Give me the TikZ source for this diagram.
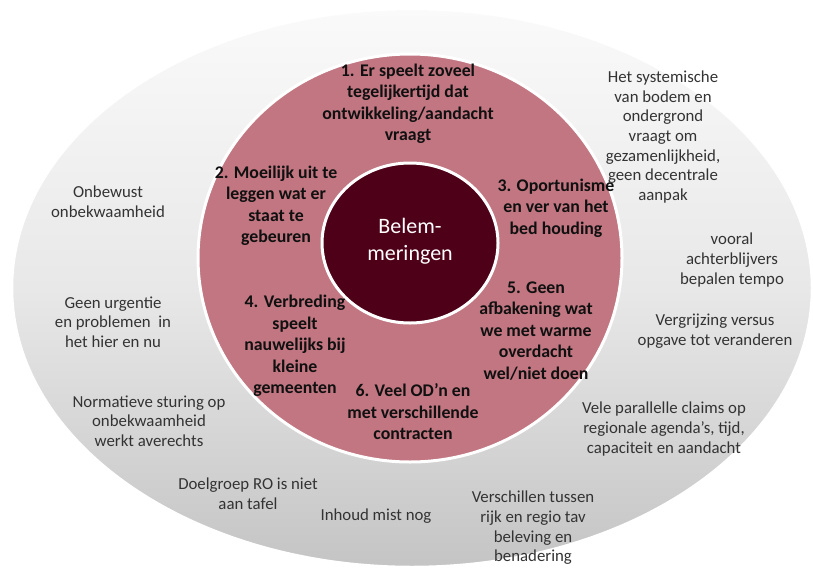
\documentclass[tikz,border=0pt]{standalone}
\usepackage{fontspec}
\setmainfont{Carlito}
\definecolor{rosefill}{HTML}{C17681}
\definecolor{darkfill}{HTML}{4F0019}
\definecolor{graytext}{HTML}{333333}
\definecolor{boldtext}{HTML}{101010}
\tikzset{
  outerring/.style={draw=white, line width=2.5pt, top color=white!98!black, bottom color=black!23, middle color=black!9},
  middlering/.style={draw=white, line width=3pt, fill=rosefill},
  innerdisc/.style={draw=white, line width=3pt, fill=darkfill},
  boldlabel/.style={font=\bfseries\fontsize{17.8}{21.5}\selectfont, align=center, text=boldtext, inner sep=0pt},
  graylabel/.style={font=\fontsize{16.8}{19.7}\selectfont, align=center, text=graytext, inner sep=0pt},
  centrelabel/.style={font=\fontsize{22}{27}\selectfont, align=center, text=white, inner sep=0pt}
}
\begin{document}
\begin{tikzpicture}[x=1pt,y=-1pt]
\useasboundingbox (0,0) rectangle (813,573);
\path[outerring] (412,288) ellipse [x radius=400, y radius=279];
\path[middlering] (410,258) ellipse [x radius=212, y radius=204];
\path[innerdisc] (410,243) ellipse [x radius=88, y radius=80];

\node[centrelabel] (c) at (410,241) {Belem-\\meringen};

\node[boldlabel] (b1) at (408,104) {1. Er speelt zoveel\\tegelijkertijd dat\\ontwikkeling/aandacht\\vraagt};
\node[boldlabel] (b2) at (276,206) {2. Moeilijk uit te\\leggen wat er\\staat te\\gebeuren};
\node[boldlabel] (b3) at (556,208) {3. Oportunisme\\en ver van het\\bed houding};
\node[boldlabel] (b4) at (295,346) {4. Verbreding\\speelt\\nauwelijks bij\\kleine\\gemeenten};
\node[boldlabel] (b5) at (536,331) {5. Geen\\afbakening wat\\we met warme\\overdacht\\wel/niet doen};
\node[boldlabel] (b6) at (413,412) {6. Veel OD’n en\\met verschillende\\contracten};

\node[graylabel] (g1) at (663,137) {Het systemische\\van bodem en\\ondergrond\\vraagt om\\gezamenlijkheid,\\geen decentrale\\aanpak};
\node[graylabel] (g2) at (108,202) {Onbewust\\onbekwaamheid};
\node[graylabel] (g3) at (113,322) {Geen urgentie\\en problemen\ \ in\\het hier en nu};
\node[graylabel] (g4) at (732,260) {vooral\\achterblijvers\\bepalen tempo};
\node[graylabel] (g5) at (715,331) {Vergrijzing versus\\opgave tot veranderen};
\node[graylabel] (g6) at (149,421) {Normatieve sturing op\\onbekwaamheid\\werkt averechts};
\node[graylabel] (g7) at (248,494) {Doelgroep RO is niet\\aan tafel};
\node[graylabel] (g8) at (664,429) {Vele parallelle claims op\\regionale agenda’s, tijd,\\capaciteit en aandacht};
\node[graylabel] (g9) at (376,516) {Inhoud mist nog};
\node[graylabel] (g10) at (533,528) {Verschillen tussen\\rijk en regio tav\\beleving en\\benadering};
\end{tikzpicture}
\end{document}
